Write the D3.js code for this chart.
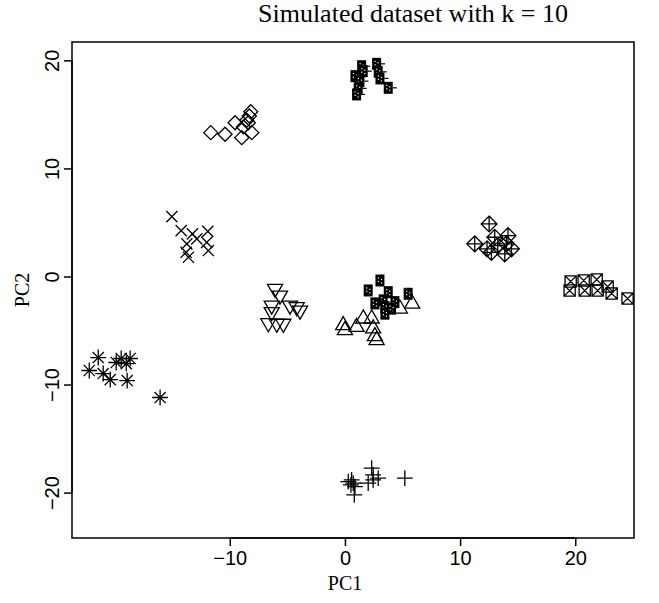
<!DOCTYPE html>
<html><head><meta charset="utf-8">
<script src="https://cdn.jsdelivr.net/npm/d3@7"></script>
<style>body{margin:0;background:#fff}</style>
</head><body>
<svg id="chart" width="659" height="603"></svg>
<script>
// ---- data (PC1, PC2) per cluster ----
const clusterTopDark = [[1.45,19.46],[0.87,18.54],[1.30,18.08],[1.15,17.41],[1.01,16.85],[1.59,19.0],[2.75,19.68],[2.89,18.94],[3.04,18.33],[3.76,17.46]];
const clusterDiamond = [[-11.65,13.31],[-10.41,13.16],[-9.54,14.23],[-8.82,13.84],[-8.96,12.85],[-8.53,14.46],[-8.30,14.85],[-8.18,15.25],[-8.39,14.23],[-8.09,13.31]];
const clusterCross = [[-15.03,5.54],[-14.22,4.24],[-13.24,3.94],[-11.91,4.18],[-12.86,3.48],[-12.00,3.16],[-13.73,3.02],[-11.86,2.40],[-13.79,2.24],[-13.59,1.78]];
const clusterTriDown = [[-6.07,-1.13],[-5.64,-1.75],[-6.36,-2.68],[-4.77,-2.68],[-4.19,-2.83],[-3.90,-3.14],[-6.36,-3.29],[-6.65,-4.31],[-5.92,-4.36],[-5.35,-4.36]];
const clusterMidDark = [[3.04,-0.37],[2.02,-1.29],[3.76,-1.45],[5.49,-1.60],[3.32,-2.21],[4.34,-2.37],[3.47,-2.83],[4.05,-2.98],[3.47,-3.44],[2.60,-2.49]];
const clusterTriUp = [[-0.15,-4.52],[0.0,-4.98],[1.01,-4.68],[1.59,-3.90],[2.32,-3.90],[2.45,-4.82],[2.60,-5.54],[2.75,-5.90],[4.77,-2.98],[5.84,-2.52]];
const clusterDiamondPlus = [[12.52,4.86],[13.01,3.63],[14.16,3.78],[11.27,3.02],[12.34,2.56],[12.72,2.24],[14.02,3.02],[14.46,2.56],[13.88,2.09],[13.27,2.86]];
const clusterSquareX = [[19.60,-0.46],[20.73,-0.37],[21.86,-0.28],[19.51,-1.30],[20.82,-1.30],[21.94,-1.30],[22.81,-0.93],[23.16,-1.57],[24.54,-2.04]];
const clusterAsterisk = [[-22.20,-8.70],[-21.42,-7.50],[-20.99,-8.98],[-20.38,-9.54],[-19.86,-7.96],[-19.43,-7.59],[-18.99,-8.06],[-18.65,-7.59],[-18.91,-9.63],[-16.05,-11.20]];
const clusterPlus = [[0.29,-18.98],[0.58,-18.82],[0.72,-19.12],[0.87,-19.44],[0.81,-20.20],[0.52,-19.28],[2.45,-18.36],[2.45,-18.82],[2.89,-18.66],[2.32,-17.74],[5.20,-18.66],[2.02,-19.12]];
const xLimits = [-23.7, 25.1];
const yLimits = [-24.2, 21.7];
const xTicks = [-10, 0, 10, 20];
const yTicks = [-20, -10, 0, 10, 20];
const titleText = "Simulated dataset with k = 10";
const xLabel = "PC1", yLabel = "PC2";

const clusters = [
  {pts: clusterTopDark, sym: "darkTail"},
  {pts: clusterDiamond, sym: "diamond"},
  {pts: clusterCross, sym: "cross"},
  {pts: clusterTriDown, sym: "triDown"},
  {pts: clusterMidDark, sym: "dark"},
  {pts: clusterTriUp, sym: "triUp"},
  {pts: clusterDiamondPlus, sym: "diamondPlus"},
  {pts: clusterSquareX, sym: "squareX"},
  {pts: clusterAsterisk, sym: "asterisk"},
  {pts: clusterPlus, sym: "plus"}
];

// ---- layout ----
const L = 72, R = 634, T = 42, B = 538;
const x = d3.scaleLinear().domain(xLimits).range([L, R]);
const y = d3.scaleLinear().domain(yLimits).range([B, T]);

const svg = d3.select("#chart");
const sans = "'Liberation Sans', Arial, Helvetica, sans-serif";
const serif = "'Liberation Serif', 'Times New Roman', Times, serif";

// ---- symbol paths (R pch conventions) ----
const RAD = 5.6;
function symPath(kind){
  const p = d3.path();
  const sq = (h) => { p.moveTo(-h,-h); p.lineTo(h,-h); p.lineTo(h,h); p.lineTo(-h,h); p.closePath(); };
  const dm = (h) => { p.moveTo(0,-h); p.lineTo(h,0); p.lineTo(0,h); p.lineTo(-h,0); p.closePath(); };
  const pl = (h) => { p.moveTo(-h,0); p.lineTo(h,0); p.moveTo(0,-h); p.lineTo(0,h); };
  const xx = (h) => { p.moveTo(-h,-h); p.lineTo(h,h); p.moveTo(-h,h); p.lineTo(h,-h); };
  const r = 1.5551*RAD, xc = 1.3468*RAD, yc = 0.7776*RAD;
  switch(kind){
    case "triUp": p.moveTo(0,-r); p.lineTo(xc,yc); p.lineTo(-xc,yc); p.closePath(); break;
    case "triDown": p.moveTo(0,r); p.lineTo(xc,-yc); p.lineTo(-xc,-yc); p.closePath(); break;
    case "diamond": dm(1.2533*RAD); break;
    case "cross": xx(RAD); break;
    case "plus": pl(Math.SQRT2*RAD); break;
    case "asterisk": pl(Math.SQRT2*RAD); xx(RAD); break;
    case "squareX": sq(RAD); xx(RAD); break;
    case "diamondPlus": dm(Math.SQRT2*RAD); pl(Math.SQRT2*RAD); break;
  }
  return p.toString();
}

const plotG = svg.append("g");
clusters.forEach(c => {
  const g = plotG.selectAll(null).data(c.pts).enter().append("g")
    .attr("transform", d => `translate(${x(d[0])},${y(d[1])})`);
  if (c.sym === "dark" || c.sym === "darkTail") {
    g.append("rect").attr("x",-4.5).attr("y",-6).attr("width",9).attr("height",12).attr("fill","#000");
    [[-1.5,-2.5],[1.5,-1],[-1.5,1],[1.5,2.5]].forEach(o => {
      g.append("rect").attr("x",o[0]-0.6).attr("y",o[1]-0.6).attr("width",1.2).attr("height",1.2).attr("fill","#fff");
    });
    if (c.sym === "darkTail") {
      g.append("line").attr("x1",4.5).attr("x2",8.5).attr("y1",0).attr("y2",0).attr("stroke","#000").attr("stroke-width",1.2);
    }
  } else {
    g.append("path").attr("d", symPath(c.sym)).attr("fill","none").attr("stroke","#000").attr("stroke-width",1.3);
  }
});

// ---- box ----
svg.append("rect").attr("x",L).attr("y",T).attr("width",R-L).attr("height",B-T)
  .attr("fill","none").attr("stroke","#000").attr("stroke-width",1.5);

// ---- axes ----
const fmt = d => d < 0 ? "\u2212" + Math.abs(d) : d;
const xAxis = d3.axisBottom(x).tickValues(xTicks).tickSize(8).tickPadding(5).tickFormat(fmt);
const gx = svg.append("g").attr("transform", `translate(0,${B})`).call(xAxis);
gx.select(".domain").attr("d", `M${x(xTicks[0])},0H${x(xTicks[xTicks.length-1])}`).attr("stroke-width",1.5);
gx.selectAll(".tick line").attr("stroke-width",1.5);
gx.selectAll("text").attr("font-family", sans).attr("font-size", 20).attr("fill","#000");

const yAxis = d3.axisLeft(y).tickValues(yTicks).tickSize(8).tickFormat(fmt);
const gy = svg.append("g").attr("transform", `translate(${L},0)`).call(yAxis);
gy.select(".domain").attr("d", `M0,${y(yTicks[0])}V${y(yTicks[yTicks.length-1])}`).attr("stroke-width",1.5);
gy.selectAll(".tick line").attr("stroke-width",1.5);
gy.selectAll("text").attr("font-family", sans).attr("font-size", 20).attr("fill","#000")
  .attr("text-anchor","middle").attr("x",null)
  .attr("transform","translate(-20,0) rotate(-90)").attr("dy","0.35em");

// ---- titles ----
svg.append("text").attr("x",413).attr("y",22).attr("text-anchor","middle")
  .attr("font-family", serif).attr("font-size", 26).text(titleText);
svg.append("text").attr("x",(L+R)/2 - 8).attr("y",590).attr("text-anchor","middle")
  .attr("font-family", serif).attr("font-size", 20).text(xLabel);
svg.append("text").attr("transform",`translate(29,${(T+B)/2}) rotate(-90)`).attr("text-anchor","middle")
  .attr("font-family", serif).attr("font-size", 20).text(yLabel);
</script>
</body></html>
